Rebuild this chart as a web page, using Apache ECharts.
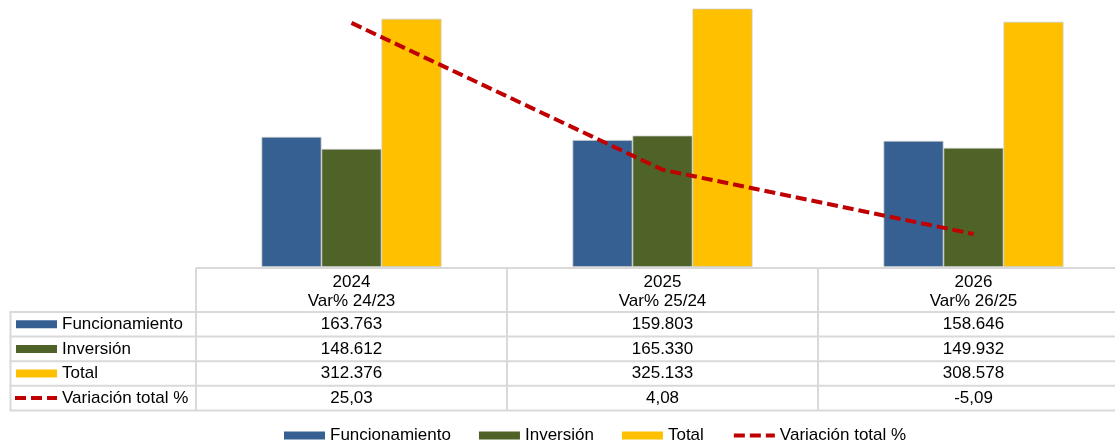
<!DOCTYPE html>
<html>
<head>
<meta charset="utf-8">
<script src="https://cdn.jsdelivr.net/npm/echarts@6/dist/echarts.min.js"></script>
<style>
html,body{margin:0;padding:0;background:#fff;overflow:hidden;width:1115px;height:444px;}
#c{width:1130px;height:444px;}
</style>
</head>
<body>
<div id="c"></div>
<script>
// ---- data ----
var categories = ['2024\nVar% 24/23', '2025\nVar% 25/24', '2026\nVar% 26/25'];
var funcionamiento = [163763, 159803, 158646];
var inversion = [148612, 165330, 149932];
var total = [312376, 325133, 308578];
var variacion = [25.03, 4.08, -5.09];
var seriesNames = ['Funcionamiento', 'Inversión', 'Total', 'Variación total %'];
var colors = ['#376092', '#4F6228', '#FFC000', '#C00000'];

// ---- layout ----
var FONT = '"Liberation Sans", Arial, sans-serif';
var FS = 17;
var gridLeft = 196, gridTop = 0, gridW = 933, gridH = 267;
var catW = gridW / categories.length;
var labelColLeft = 10.5;
var tableTop = 268, headerBottom = 312, rowH = 24.6;
var lineColor = '#D9D9D9';

function fmtThousands(v) {
  return String(v).replace(/\B(?=(\d{3})+(?!\d))/g, '.');
}
function fmtPct(v) {
  return v.toFixed(2).replace('.', ',');
}

var rows = [
  {name: seriesNames[0], vals: funcionamiento.map(fmtThousands), kind: 'bar', color: colors[0]},
  {name: seriesNames[1], vals: inversion.map(fmtThousands), kind: 'bar', color: colors[1]},
  {name: seriesNames[2], vals: total.map(fmtThousands), kind: 'bar', color: colors[2]},
  {name: seriesNames[3], vals: variacion.map(fmtPct), kind: 'line', color: colors[3]}
];

var graphics = [];
var rightEdge = 1130;
graphics.push({type:'line', shape:{x1:gridLeft, y1:tableTop, x2:rightEdge, y2:tableTop}, style:{stroke:lineColor, lineWidth:2}, silent:true});
for (var r = 0; r <= rows.length; r++) {
  var y = headerBottom + r * rowH;
  graphics.push({type:'line', shape:{x1:labelColLeft - 1, y1:y, x2:rightEdge, y2:y}, style:{stroke:lineColor, lineWidth:2}, silent:true});
}
var tableBottom = headerBottom + rows.length * rowH;
graphics.push({type:'line', shape:{x1:labelColLeft, y1:headerBottom, x2:labelColLeft, y2:tableBottom}, style:{stroke:lineColor, lineWidth:2}, silent:true});
for (var c = 0; c < categories.length; c++) {
  var x = gridLeft + c * catW;
  graphics.push({type:'line', shape:{x1:x, y1:tableTop, x2:x, y2:tableBottom}, style:{stroke:lineColor, lineWidth:2}, silent:true});
}
rows.forEach(function (row, i) {
  var cy = headerBottom + i * rowH + rowH / 2;
  if (row.kind === 'bar') {
    graphics.push({type:'rect', shape:{x:16, y:cy - 4, width:41, height:8}, style:{fill:row.color}, silent:true});
  } else {
    graphics.push({type:'line', shape:{x1:15, y1:cy, x2:57, y2:cy}, style:{stroke:row.color, lineWidth:4, lineDash:[11,5]}, silent:true});
  }
  graphics.push({type:'text', x:62, y:cy, style:{text:row.name, font: FS + 'px ' + FONT, fill:'#000', textVerticalAlign:'middle', textAlign:'left'}, silent:true});
  row.vals.forEach(function (v, j) {
    graphics.push({type:'text', x:gridLeft + catW * (j + 0.5), y:cy, style:{text:v, font: FS + 'px ' + FONT, fill:'#000', textVerticalAlign:'middle', textAlign:'center'}, silent:true});
  });
});

var chart = echarts.init(document.getElementById('c'), null, {renderer:'canvas'});
var barBorder = {borderColor:'rgba(200,200,200,0.9)', borderWidth:0.8};
chart.setOption({
  animation: false,
  textStyle: {fontFamily: FONT},
  grid: {left: gridLeft, top: gridTop, width: gridW, height: gridH, containLabel: false},
  xAxis: {
    type: 'category',
    data: categories,
    axisLine: {show: false},
    axisTick: {show: false},
    axisLabel: {color:'#000', fontSize: FS, lineHeight: 19, margin: 6, fontFamily: FONT, interval: 0}
  },
  yAxis: [
    {type:'value', min:0, max:336, show:false, splitLine:{show:false}},
    {type:'value', min:-9.8, max:28.3, show:false, splitLine:{show:false}}
  ],
  legend: {
    left: 284, top: 427, padding: 0,
    itemWidth: 41, itemHeight: 8, itemGap: 28,
    textStyle: {color:'#000', fontSize: FS, fontFamily: FONT},
    data: [
      {name: seriesNames[0], icon: 'rect', itemStyle: {borderWidth: 0}},
      {name: seriesNames[1], icon: 'rect', itemStyle: {borderWidth: 0}},
      {name: seriesNames[2], icon: 'rect', itemStyle: {borderWidth: 0}},
      {name: seriesNames[3], itemStyle: {opacity: 0}, lineStyle: {width: 4, type: [11,5]}}
    ]
  },
  series: [
    {name: seriesNames[0], type:'bar', data: funcionamiento.map(function(v){return v/1000;}), barWidth: 60, barGap:'0%', itemStyle: Object.assign({color: colors[0]}, barBorder)},
    {name: seriesNames[1], type:'bar', data: inversion.map(function(v){return v/1000;}), barWidth: 60, barGap:'0%', itemStyle: Object.assign({color: colors[1]}, barBorder)},
    {name: seriesNames[2], type:'bar', data: total.map(function(v){return v/1000;}), barWidth: 60, barGap:'0%', itemStyle: Object.assign({color: colors[2]}, barBorder)},
    {name: seriesNames[3], type:'line', yAxisIndex:1, data: variacion, symbol:'none', lineStyle:{color: colors[3], width:4, type:[11,5]}, itemStyle:{color: colors[3]}, z: 5}
  ],
  graphic: graphics
});
</script>
</body>
</html>
